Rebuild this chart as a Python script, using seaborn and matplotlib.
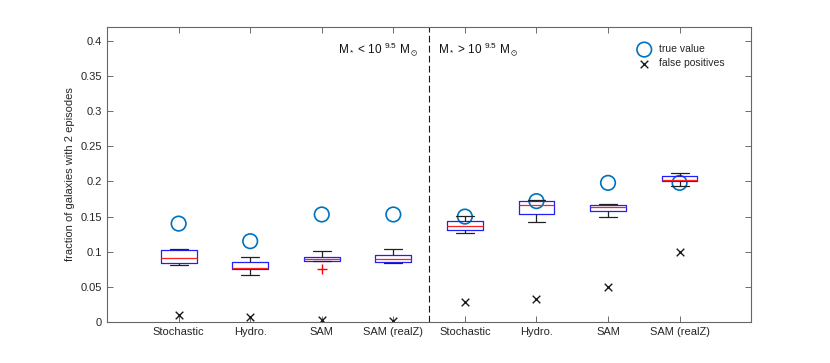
import pandas as pd
import matplotlib
matplotlib.use('Agg')
import matplotlib.pyplot as plt
import seaborn as sns

# Modèles et positions
models = ['Stochastic', 'Hydro.', 'SAM', 'SAM (realZ)']
tick_labels = models * 2
positions = [1, 2, 3, 4, 5, 6, 7, 8]

# fractions issues des réalisations (9 par modèle), M* < 10^9.5
stoch_lo = [0.0810, 0.0830, 0.0843, 0.0880, 0.0910, 0.0960, 0.1024, 0.1030, 0.1038]
hydro_lo = [0.0667, 0.0720, 0.0757, 0.0762, 0.0767, 0.0800, 0.0852, 0.0890, 0.0924]
sam_lo = [0.0757, 0.0862, 0.0862, 0.0880, 0.0895, 0.0910, 0.0929, 0.0960, 0.1010]
samz_lo = [0.0838, 0.0845, 0.0852, 0.0870, 0.0895, 0.0920, 0.0957, 0.1000, 0.1043]
# M* > 10^9.5
stoch_hi = [0.1270, 0.1290, 0.1305, 0.1340, 0.1370, 0.1400, 0.1438, 0.1470, 0.1510]
hydro_hi = [0.1424, 0.1480, 0.1538, 0.1600, 0.1662, 0.1690, 0.1724, 0.1735, 0.1743]
sam_hi = [0.1500, 0.1550, 0.1586, 0.1610, 0.1638, 0.1650, 0.1670, 0.1680, 0.1686]
samz_hi = [0.1938, 0.1980, 0.2010, 0.2015, 0.2024, 0.2050, 0.2076, 0.2090, 0.2114]

true_value = [0.140, 0.115, 0.153, 0.153, 0.150, 0.172, 0.198, 0.198]
false_pos = [0.010, 0.007, 0.0025, 0.001, 0.028, 0.032, 0.050, 0.100]

runs = [stoch_lo, hydro_lo, sam_lo, samz_lo, stoch_hi, hydro_hi, sam_hi, samz_hi]
rows = []
for p, vals in zip(positions, runs):
    for v in vals:
        rows.append({'pos': p, 'value': v})
df = pd.DataFrame(rows)

sns.set_theme(style='ticks')
plt.rcParams['font.family'] = ['Liberation Sans', 'DejaVu Sans']
plt.rcParams['mathtext.fontset'] = 'custom'
plt.rcParams['mathtext.rm'] = 'Liberation Sans'
plt.rcParams['mathtext.it'] = 'Liberation Sans:italic'
plt.rcParams['mathtext.default'] = 'regular'

fig, ax = plt.subplots(figsize=(8.3, 3.63), dpi=100)
fig.subplots_adjust(left=0.129, right=0.905, bottom=0.113, top=0.926)

sns.boxplot(data=df, x='pos', y='value', native_scale=True, width=0.5,
            fill=False, color='#2020ff', linewidth=0.9,
            medianprops=dict(color='#ff2020'),
            whiskerprops=dict(color='#222222'),
            capprops=dict(color='#222222'),
            flierprops=dict(marker='+', markeredgecolor='red', markersize=7,
                            markeredgewidth=1.0),
            ax=ax)

sns.scatterplot(x=positions, y=true_value, marker='o', s=110,
                facecolor='none', edgecolor='#0072BD', linewidth=1.2,
                label='true value', ax=ax)
sns.scatterplot(x=positions, y=false_pos, marker='x', s=30, color='k',
                linewidth=1.0, label='false positives', ax=ax)

ax.axvline(4.5, color='k', ls=(0, (6, 3)), lw=0.8)

ax.text(3.23, 0.389, r'M$_*$ < 10 $^{9.5}$ M$_\odot$', fontsize=8.5, va='center', color='#111111')
ax.text(4.62, 0.389, r'M$_*$ > 10 $^{9.5}$ M$_\odot$', fontsize=8.5, va='center', color='#111111')

ax.set_xlim(0, 9)
ax.set_ylim(0, 0.42)
ax.set_xticks(positions)
ax.set_xticklabels(tick_labels)
yt = [0, 0.05, 0.1, 0.15, 0.2, 0.25, 0.3, 0.35, 0.4]
ax.set_yticks(yt)
ax.set_yticklabels([f'{v:g}' for v in yt])
ax.set_xlabel('')
ax.set_ylabel('fraction of galaxies with 2 episodes', fontsize=8, color='#262626')
ax.tick_params(direction='in', top=True, right=True, length=4, width=0.6,
               color='#555555', labelcolor='#262626', labelsize=8)
for s in ax.spines.values():
    s.set_visible(True)
    s.set_color('#666666')
    s.set_linewidth(0.8)

ax.legend(loc='upper right', bbox_to_anchor=(0.965, 0.955), frameon=False,
          fontsize=7.5, handletextpad=0.4, labelspacing=0.4, borderaxespad=0)

fig.savefig('out.png', dpi=100)
